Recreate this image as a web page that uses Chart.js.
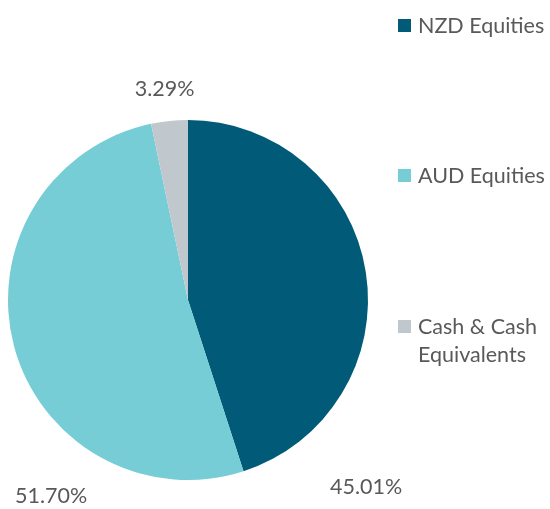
<!DOCTYPE html>
<html><head><meta charset="utf-8">
<script src="https://cdn.jsdelivr.net/npm/chart.js@4"></script>
<style>html,body{margin:0;padding:0;background:#fff}#wrap{width:550px;height:509px}</style>
</head><body><div id="wrap"><canvas id="c" width="550" height="509"></canvas></div>
<script>
const categories = ["NZD Equities", "AUD Equities", "Cash & Cash Equivalents"];
const legendLines = [["NZD Equities"], ["AUD Equities"], ["Cash & Cash", "Equivalents"]];
const values = [45.01, 51.70, 3.29];
const valueLabels = ["45.01%", "51.70%", "3.29%"];
const colors = ["#015a78", "#77cdd6", "#c0c8cd"];
// label anchor offsets relative to pie centre, in units of radius
const labelOffsets = [[0.99, 1.04], [-0.76, 1.09], [-0.13, -1.17]];
const legendY = [25, 175, 326];

const FONT = "Lato, 'Open Sans', sans-serif";
const TEXT = "#595959";

const overlay = {
  id: "overlay",
  afterDraw(chart) {
    const ctx = chart.ctx;
    const arc = chart.getDatasetMeta(0).data[0];
    const cx = arc.x, cy = arc.y, r = arc.outerRadius;
    ctx.save();
    ctx.fillStyle = TEXT;
    ctx.font = "21.5px " + FONT;
    ctx.textAlign = "center";
    ctx.textBaseline = "middle";
    valueLabels.forEach((t, i) => {
      ctx.fillText(t, cx + labelOffsets[i][0] * r, cy + labelOffsets[i][1] * r);
    });
    ctx.textAlign = "left";
    categories.forEach((c, i) => {
      const y = legendY[i];
      ctx.fillStyle = colors[i];
      ctx.fillRect(398, y - 6, 13, 13);
      ctx.fillStyle = TEXT;
      legendLines[i].forEach((ln, j) => {
        ctx.fillText(ln, 418, y + 1 + j * 28);
      });
    });
    ctx.restore();
  }
};

new Chart(document.getElementById("c"), {
  type: "pie",
  data: {
    labels: categories,
    datasets: [{ data: values, backgroundColor: colors, borderWidth: 0 }]
  },
  options: {
    responsive: false,
    animation: false,
    layout: { padding: { left: 8, top: 120, right: 182, bottom: 29 } },
    plugins: { legend: { display: false }, tooltip: { enabled: false } }
  },
  plugins: [overlay]
});
</script></body></html>
